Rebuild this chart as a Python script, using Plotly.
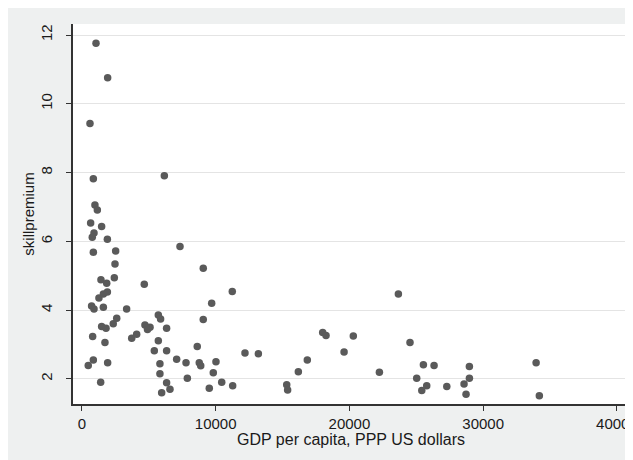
import plotly.graph_objects as go

gdp = [1050, 1920, 600, 850, 6160, 970, 1150, 650, 1470, 900,
       770, 1900, 850, 2520, 7330, 2470, 9070, 1420, 1850, 2420,
       4660, 1270, 1600, 1900, 720, 900, 1600, 3340, 5710, 5880,
       2600, 2340, 1470, 1800, 4710, 5090, 4900, 6330, 9070, 800,
       1720, 3720, 4090, 5710, 5410, 6330, 8620, 7080, 7780, 8770,
       8880, 470, 850, 1920, 5830, 5830, 7880, 1400, 6330, 6580,
       5960, 11240, 9700, 10020, 9820, 10450, 9520, 11270, 12190, 13190,
       15310, 15380, 16180, 16850, 18000, 18250, 19600, 20290, 23660, 22240,
       24530, 25530, 26330, 25030, 25780, 25410, 27280, 28970, 28970, 28570,
       28720, 33960, 34200]
skill = [11.76, 10.76, 9.43, 7.82, 7.91, 7.06, 6.91, 6.53, 6.43, 6.24,
         6.12, 6.06, 5.68, 5.72, 5.85, 5.34, 5.22, 4.88, 4.78, 4.94,
         4.75, 4.35, 4.47, 4.53, 4.12, 4.03, 4.08, 4.03, 3.86, 3.74,
         3.76, 3.60, 3.52, 3.47, 3.57, 3.50, 3.44, 3.47, 3.73, 3.23,
         3.06, 3.18, 3.30, 3.11, 2.82, 2.82, 2.94, 2.57, 2.47, 2.47,
         2.38, 2.39, 2.55, 2.47, 2.44, 2.15, 2.02, 1.90, 1.89, 1.70,
         1.60, 4.54, 4.20, 2.50, 2.18, 1.90, 1.73, 1.80, 2.75, 2.73,
         1.83, 1.68, 2.21, 2.55, 3.35, 3.26, 2.78, 3.25, 4.47, 2.19,
         3.06, 2.41, 2.39, 2.02, 1.80, 1.66, 1.78, 2.36, 2.02, 1.85,
         1.55, 2.47, 1.51]

x_ticks = [0, 10000, 20000, 30000, 40000]
y_ticks = [2, 4, 6, 8, 10, 12]
x_title = "GDP per capita, PPP US dollars"
y_title = "skillpremium"

# the page body adds an 8px offset; figure coordinates are reference minus 8
W, H = 633, 460
L, R, T, B = 65, 13, 16, 64
ph = H - T - B

fig = go.Figure(go.Scatter(
    x=gdp, y=skill, mode="markers",
    marker=dict(color="#5a5a5a", size=7.5, symbol="circle", line=dict(width=0)),
    hoverinfo="x+y",
))

font = dict(family="Liberation Sans, Arial, sans-serif", size=15, color="#1a1a1a")

fig.update_layout(
    template="none",
    width=W, height=H,
    margin=dict(l=L, r=R, t=T, b=B, pad=0),
    paper_bgcolor="#eef0f0",
    plot_bgcolor="white",
    showlegend=False,
    font=font,
    xaxis=dict(
        range=[-670, 40830], tickvals=x_ticks, ticktext=[str(v) for v in x_ticks],
        automargin=False,
        showgrid=False, zeroline=False, showline=True, linecolor="#333333", linewidth=1.5,
        ticks="outside", ticklen=5, tickwidth=1.3, tickcolor="#333333",
        ticklabelstandoff=0,
        tickfont=dict(size=15),
    ),
    yaxis=dict(
        range=[1.27, 12.32], tickvals=y_ticks, ticktext=[str(v) for v in y_ticks],
        automargin=False,
        showgrid=True, gridcolor="#e4e4e4", gridwidth=1.3,
        zeroline=False, showline=True, linecolor="#333333", linewidth=1.5,
        ticks="outside", ticklen=5, tickwidth=1.3, tickcolor="#333333",
        tickangle=-90, tickfont=dict(size=15), ticklabelstandoff=8,
        title=dict(text=y_title, standoff=0, font=dict(size=15)),
    ),
    annotations=[dict(
        text=x_title, xref="paper", yref="paper", x=0.5, y=-35 / ph,
        xanchor="center", yanchor="middle", showarrow=False,
        font=dict(size=16, family=font["family"], color=font["color"]),
    )],
)

fig.write_html("out.html")
